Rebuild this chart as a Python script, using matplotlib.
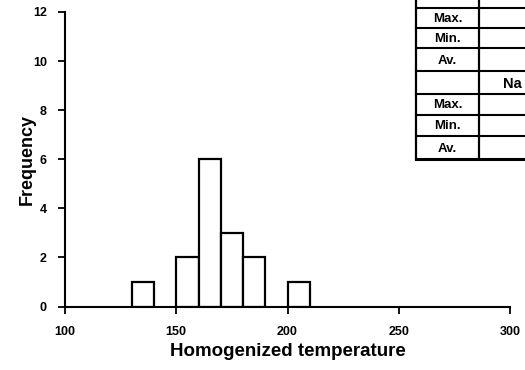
import matplotlib

matplotlib.use("Agg")
import matplotlib.pyplot as plt
from matplotlib.lines import Line2D

# histogram of homogenization temperatures (10-degree bins)
BIN_LEFT = [130, 150, 160, 170, 180, 200]
COUNTS = [1, 2, 6, 3, 2, 1]
BIN_WIDTH = 10

X_TICKS = [100, 150, 200, 250, 300]
Y_TICKS = [0, 2, 4, 6, 8, 10, 12]

# summary table in the corner (cut off at the right edge in the original)
TABLE_ROWS = ["", "Max.", "Min.", "Av.", "Na", "Max.", "Min.", "Av."]

W, H = 525, 370


def main():
    plt.rcParams.update({"font.family": "Liberation Sans"})
    fig = plt.figure(figsize=(W / 100, H / 100), dpi=100)
    ax = fig.add_axes([65 / W, (H - 306.5) / H, 445 / W, 294.5 / H])

    ax.bar(BIN_LEFT, COUNTS, width=BIN_WIDTH, align="edge",
           facecolor="white", edgecolor="black", linewidth=1.6)

    ax.set_xlim(100, 300)
    ax.set_ylim(0, 12)
    ax.set_xticks(X_TICKS)
    ax.set_yticks(Y_TICKS)
    ax.tick_params(axis="both", direction="out", length=5, width=1.3,
                   labelsize=9)
    ax.tick_params(axis="x", pad=9)
    ax.tick_params(axis="y", pad=8)
    for lab in ax.get_xticklabels() + ax.get_yticklabels():
        lab.set_fontweight("bold")
    for side in ("top", "right"):
        ax.spines[side].set_visible(False)
    for side in ("left", "bottom"):
        ax.spines[side].set_linewidth(1.5)

    ax.set_ylabel("Frequency", fontsize=13, fontweight="bold", labelpad=-2)
    ax.set_xlabel("Homogenized temperature", fontsize=13.5,
                  fontweight="bold", labelpad=4)

    # table drawn in pixel space
    def fx(px):
        return px / W

    def fy(py):
        return (H - py) / H

    row_edges = [-12, 8, 28, 48, 71, 94, 115, 136, 159]
    x_left, x_mid, x_right = 416, 479, 600
    for i, yy in enumerate(row_edges[1:]):
        lw = 2.2 if i == len(row_edges) - 2 else 1.5
        fig.add_artist(Line2D([fx(x_left), fx(x_right)], [fy(yy), fy(yy)],
                              color="black", lw=lw))
    for xx in (x_left, x_mid):
        fig.add_artist(Line2D([fx(xx), fx(xx)], [fy(-2), fy(159)],
                              color="black", lw=1.6))
    for i, name in enumerate(TABLE_ROWS):
        yc = (row_edges[i] + row_edges[i + 1]) / 2
        if name == "Na":
            fig.text(fx(503), fy(yc + 1), name, ha="left",
                     va="center", fontsize=10.5, fontweight="bold")
        elif name:
            fig.text(fx((x_left + x_mid) / 2), fy(yc + 1), name, ha="center",
                     va="center", fontsize=9.5, fontweight="bold")

    fig.savefig("out.png", dpi=100)


if __name__ == "__main__":
    main()
